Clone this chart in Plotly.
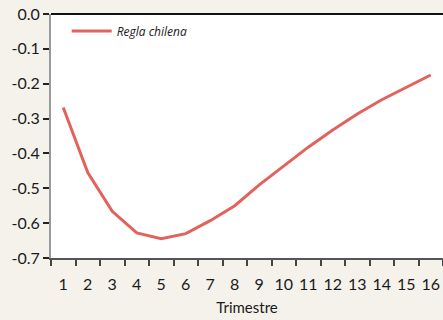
import plotly.graph_objects as go

# Quarterly response of the balance under the Chilean fiscal rule
trimestres = [str(i) for i in range(1, 17)]
regla_chilena = [-0.268, -0.455, -0.566, -0.628, -0.645, -0.630, -0.593, -0.550,
                 -0.490, -0.435, -0.382, -0.333, -0.287, -0.246, -0.210, -0.175]
y_ticks = [0.0, -0.1, -0.2, -0.3, -0.4, -0.5, -0.6, -0.7]
y_ticktext = ["0.0", "-0.1", "-0.2", "-0.3", "-0.4", "-0.5", "-0.6", "-0.7"]

fig = go.Figure()
fig.add_trace(go.Scatter(
    x=trimestres, y=regla_chilena, mode="lines", name="Regla chilena",
    line=dict(color="#E2625C", width=3),
))

font_family = "Lato, Open Sans, sans-serif"
fig.update_layout(
    width=443, height=320,
    margin=dict(l=51, r=0, t=14, b=62),
    paper_bgcolor="#F5F2EC",
    plot_bgcolor="#FFFFFF",
    font=dict(family=font_family, size=16, color="#1a1a1a"),
    showlegend=True,
    legend=dict(
        x=0.04, y=0.93, xanchor="left", yanchor="middle",
        bgcolor="rgba(0,0,0,0)",
        font=dict(family="Open Sans, sans-serif", size=12, style="italic"),
        itemwidth=40,
    ),
    xaxis=dict(
        type="category",
        tickson="boundaries",
        tickangle=0,
        ticks="outside", ticklen=6, tickwidth=2, tickcolor="#444444",
        showline=True, linecolor="#555555", linewidth=2,
        showgrid=False, zeroline=False,
        ticklabelstandoff=11,
        title=dict(text="Trimestre", font=dict(size=15), standoff=10),
        range=[-0.5, 15.5],
    ),
    yaxis=dict(
        range=[-0.7, 0.0],
        tickvals=y_ticks, ticktext=y_ticktext,
        ticks="outside", ticklen=6, tickwidth=2, tickcolor="#222222",
        showline=True, linecolor="#9A9A9A", linewidth=2,
        showgrid=False, zeroline=False,
    ),
)

# Black rule along the top of the plotting area
fig.add_shape(type="line", xref="paper", yref="paper", x0=0, x1=1, y0=1, y1=1,
              line=dict(color="#111111", width=2))

fig.write_html("out.html")
